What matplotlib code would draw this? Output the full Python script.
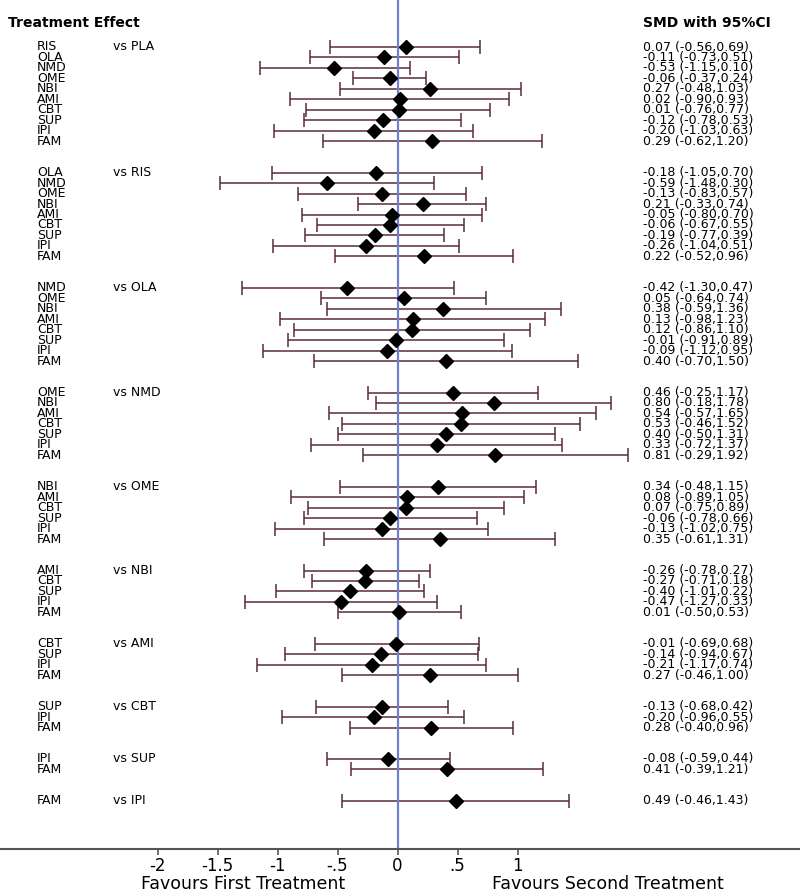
import matplotlib
matplotlib.use("Agg")
import matplotlib.pyplot as plt
import numpy as np

plt.rcParams['font.family'] = ['DejaVu Sans']

# ---- data ----
comparators = ["PLA", "RIS", "OLA", "NMD", "OME", "NBI", "AMI", "CBT", "SUP", "IPI"]
group_sizes = [10, 9, 8, 7, 6, 5, 4, 3, 2, 1]
treatments = [
    "RIS", "OLA", "NMD", "OME", "NBI", "AMI", "CBT", "SUP", "IPI", "FAM",
    "OLA", "NMD", "OME", "NBI", "AMI", "CBT", "SUP", "IPI", "FAM",
    "NMD", "OME", "NBI", "AMI", "CBT", "SUP", "IPI", "FAM",
    "OME", "NBI", "AMI", "CBT", "SUP", "IPI", "FAM",
    "NBI", "AMI", "CBT", "SUP", "IPI", "FAM",
    "AMI", "CBT", "SUP", "IPI", "FAM",
    "CBT", "SUP", "IPI", "FAM",
    "SUP", "IPI", "FAM",
    "IPI", "FAM",
    "FAM",
]
smd = [
    0.07, -0.11, -0.53, -0.06, 0.27, 0.02, 0.01, -0.12, -0.20, 0.29,
    -0.18, -0.59, -0.13, 0.21, -0.05, -0.06, -0.19, -0.26, 0.22,
    -0.42, 0.05, 0.38, 0.13, 0.12, -0.01, -0.09, 0.40,
    0.46, 0.80, 0.54, 0.53, 0.40, 0.33, 0.81,
    0.34, 0.08, 0.07, -0.06, -0.13, 0.35,
    -0.26, -0.27, -0.40, -0.47, 0.01,
    -0.01, -0.14, -0.21, 0.27,
    -0.13, -0.20, 0.28,
    -0.08, 0.41,
    0.49,
]
lower = [
    -0.56, -0.73, -1.15, -0.37, -0.48, -0.90, -0.76, -0.78, -1.03, -0.62,
    -1.05, -1.48, -0.83, -0.33, -0.80, -0.67, -0.77, -1.04, -0.52,
    -1.30, -0.64, -0.59, -0.98, -0.86, -0.91, -1.12, -0.70,
    -0.25, -0.18, -0.57, -0.46, -0.50, -0.72, -0.29,
    -0.48, -0.89, -0.75, -0.78, -1.02, -0.61,
    -0.78, -0.71, -1.01, -1.27, -0.50,
    -0.69, -0.94, -1.17, -0.46,
    -0.68, -0.96, -0.40,
    -0.59, -0.39,
    -0.46,
]
upper = [
    0.69, 0.51, 0.10, 0.24, 1.03, 0.93, 0.77, 0.53, 0.63, 1.20,
    0.70, 0.30, 0.57, 0.74, 0.70, 0.55, 0.39, 0.51, 0.96,
    0.47, 0.74, 1.36, 1.23, 1.10, 0.89, 0.95, 1.50,
    1.17, 1.78, 1.65, 1.52, 1.31, 1.37, 1.92,
    1.15, 1.05, 0.89, 0.66, 0.75, 1.31,
    0.27, 0.18, 0.22, 0.33, 0.53,
    0.68, 0.67, 0.74, 1.00,
    0.42, 0.55, 0.96,
    0.44, 1.21,
    1.43,
]
tick_values = [-2, -1.5, -1, -0.5, 0, 0.5, 1]
tick_labels = ["-2", "-1.5", "-1", "-.5", "0", ".5", "1"]

# ---- layout ----
W, H = 800, 892
fig = plt.figure(figsize=(W / 100, H / 100), dpi=100)
axis_px = 849
ax = fig.add_axes([0, (H - axis_px) / H, 1, axis_px / H])

x0_px, unit_px = 397.5, 120.0
row0_px, step_px = 47.0, 10.47
ax.set_xlim((0 - x0_px) / unit_px, (W - x0_px) / unit_px)
ax.set_ylim((axis_px - row0_px) / step_px, (0 - row0_px) / step_px)

def px2x(p):
    return (p - x0_px) / unit_px

def px2y(p):
    return (p - row0_px) / step_px

# row positions: two blank rows between groups
ypos = []
gstart = []
k = 0
for g, n in enumerate(group_sizes):
    gstart.append(k + 2 * g)
    for i in range(n):
        ypos.append(k + 2 * g)
        k += 1
ypos = np.array(ypos, dtype=float)
smd_a = np.array(smd)
lo_a = np.array(lower)
hi_a = np.array(upper)

ax.errorbar(smd_a, ypos, xerr=[smd_a - lo_a, hi_a - smd_a], fmt='none',
            ecolor='#5a2a3a', elinewidth=1.1, capsize=5, capthick=1.1, zorder=2)
ax.axvline(0, color='#7080cc', lw=1.6, zorder=2.5)
ax.plot(smd_a, ypos, 'D', color='black', ms=7, zorder=3)

fs = 9
for t, y, s, l, h in zip(treatments, ypos, smd, lower, upper):
    ax.text(px2x(37), y, t, fontsize=fs, va='center', ha='left')
    ax.text(px2x(643), y, f"{s:.2f} ({l:.2f},{h:.2f})", fontsize=fs,
            va='center', ha='left')
for c, y in zip(comparators, gstart):
    ax.text(px2x(113), y, "vs " + c, fontsize=fs, va='center', ha='left')

ax.text(px2x(8), px2y(23), "Treatment Effect", fontsize=10, fontweight='bold',
        va='center', ha='left')
ax.text(px2x(643), px2y(23), "SMD with 95%CI", fontsize=10, fontweight='bold',
        va='center', ha='left')

for sp in ['top', 'left', 'right']:
    ax.spines[sp].set_visible(False)
ax.spines['bottom'].set_color('#555555')
ax.spines['bottom'].set_linewidth(1.5)
ax.set_yticks([])
ax.set_xticks(tick_values)
ax.set_xticklabels(tick_labels)
ax.tick_params(axis='x', direction='out', length=4, width=1.2, color='#555555',
               labelsize=12, pad=2)

fig.text(243 / W, 1 - 884 / H, "Favours First Treatment", fontsize=12.5,
         ha='center', va='center')
fig.text(608 / W, 1 - 884 / H, "Favours Second Treatment", fontsize=12.5,
         ha='center', va='center')

fig.savefig("out.png", dpi=100)
